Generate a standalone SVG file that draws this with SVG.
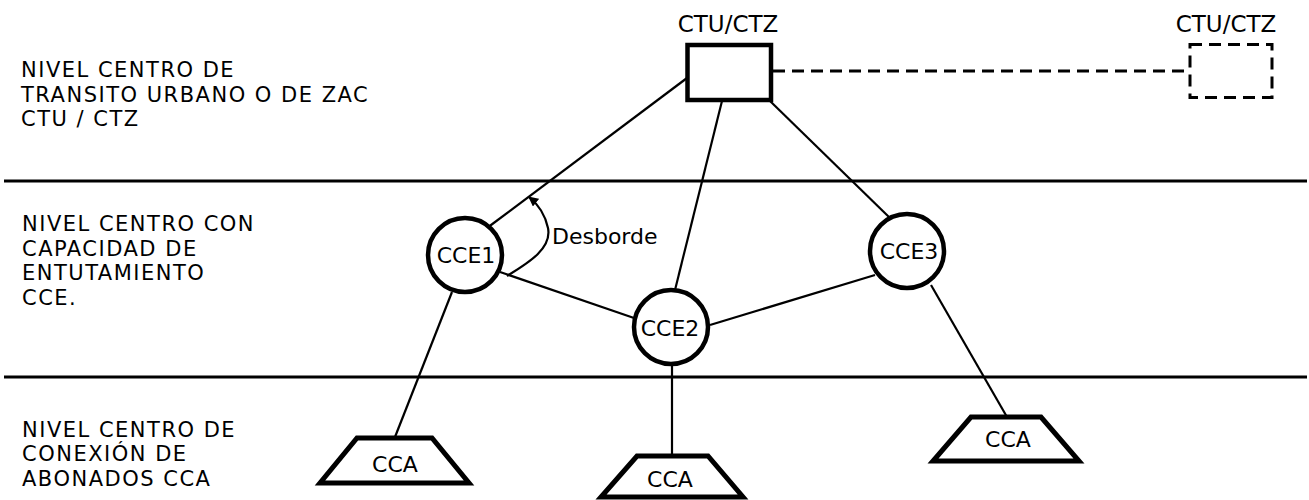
<svg xmlns="http://www.w3.org/2000/svg" width="1309" height="500" viewBox="0 0 1309 500">
<style>
  text { font-family: "DejaVu Sans", "Liberation Sans", sans-serif; fill: #000; }
  .lbl { font-size: 21px; letter-spacing: 1.5px; }
  .top { font-size: 23px; text-anchor: middle; }
  .nt { font-size: 22px; text-anchor: middle; }
  .conn { stroke: #000; stroke-width: 2.2; fill: none; }
  .level { stroke: #000; stroke-width: 3; fill: none; }
  .circ { stroke: #000; stroke-width: 4.5; fill: #fff; }
  .trap { stroke: #000; stroke-width: 5; fill: #fff; stroke-linejoin: miter; }
  .dash { stroke: #000; stroke-width: 3; fill: none; stroke-dasharray: 12 7; }
</style>
<defs>
  <marker id="arr" viewBox="0 0 10 10" refX="9" refY="5" markerWidth="10" markerHeight="10" markerUnits="userSpaceOnUse" orient="auto">
    <path d="M0,0 L10,5 L0,10 z" fill="#000"/>
  </marker>
</defs>
<rect width="1309" height="500" fill="#fff"/>

<g id="levels">
  <line class="level" x1="4" y1="181" x2="1307" y2="181"/>
  <line class="level" x1="4" y1="377" x2="1307" y2="377"/>
</g>

<g id="level-labels">
  <text class="lbl" x="21" y="77">NIVEL CENTRO DE</text>
  <text class="lbl" x="21" y="101.5">TRANSITO URBANO O DE ZAC</text>
  <text class="lbl" x="21" y="126">CTU / CTZ</text>
  <text class="lbl" x="22" y="231">NIVEL CENTRO CON</text>
  <text class="lbl" x="22" y="255.5">CAPACIDAD DE</text>
  <text class="lbl" x="22" y="280">ENTUTAMIENTO</text>
  <text class="lbl" x="22" y="304.5">CCE.</text>
  <text class="lbl" x="22" y="436.5">NIVEL CENTRO DE</text>
  <text class="lbl" x="22" y="461">CONEXIÓN DE</text>
  <text class="lbl" x="22" y="485.5">ABONADOS CCA</text>
</g>

<g id="connectors">
  <line class="conn" x1="687" y1="78" x2="487" y2="228"/>
  <line class="conn" x1="722" y1="101" x2="675" y2="290"/>
  <line class="conn" x1="770" y1="101" x2="890" y2="218"/>
  <line class="conn" x1="500" y1="272" x2="634" y2="318"/>
  <line class="conn" x1="710" y1="325" x2="875" y2="275"/>
  <line class="conn" x1="452" y1="292" x2="395" y2="437"/>
  <line class="conn" x1="672" y1="365" x2="672" y2="455"/>
  <line class="conn" x1="931" y1="285" x2="1007" y2="417"/>
  <line class="dash" x1="773" y1="71" x2="1189" y2="71"/>
  <path class="conn" d="M507,276 C530,262 552,248 548,228 C545,214 539,205 529,197" marker-end="url(#arr)"/>
  <text id="desborde" x="552" y="244" style="font-size:22px">Desborde</text>
</g>

<g id="ctu-main">
  <rect x="687.5" y="45" width="83.5" height="55" fill="#fff" stroke="#000" stroke-width="4.5"/>
  <text class="top" x="728" y="32">CTU/CTZ</text>
</g>

<g id="ctu-remote">
  <rect class="dash" x="1190" y="44.5" width="82" height="53"/>
  <text class="top" x="1226" y="32">CTU/CTZ</text>
</g>

<g id="cce1">
  <circle class="circ" cx="465" cy="255" r="37"/>
  <text class="nt" x="466" y="263">CCE1</text>
</g>
<g id="cce2">
  <circle class="circ" cx="671" cy="327" r="37"/>
  <text class="nt" x="670" y="336">CCE2</text>
</g>
<g id="cce3">
  <circle class="circ" cx="907" cy="251" r="37"/>
  <text class="nt" x="909" y="259">CCE3</text>
</g>

<g id="cca1">
  <path class="trap" d="M357,438 L432,438 L469,483 L320,483 Z"/>
  <text class="nt" x="395" y="472">CCA</text>
</g>
<g id="cca2">
  <path class="trap" d="M637,456 L708,456 L743,497 L601,497 Z"/>
  <text class="nt" x="670" y="487">CCA</text>
</g>
<g id="cca3">
  <path class="trap" d="M971,417 L1041,417 L1079,461 L933,461 Z"/>
  <text class="nt" x="1008" y="447">CCA</text>
</g>
</svg>
